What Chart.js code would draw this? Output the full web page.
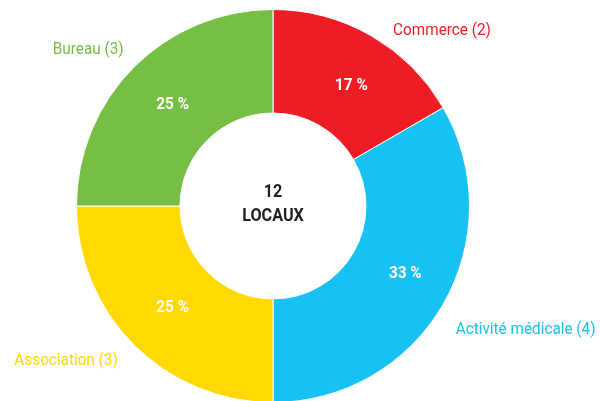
<!DOCTYPE html>
<html>
<head>
<meta charset="utf-8">
<script src="https://cdn.jsdelivr.net/npm/chart.js@4"></script>
<style>
  html, body { margin: 0; padding: 0; background: #fff; overflow: hidden; }
  #wrap { width: 600px; height: 401px; overflow: hidden; }
</style>
</head>
<body>
<div id="wrap"><canvas id="locaux" width="600" height="410"></canvas></div>
<script>
// ---- data ----
const categories = ['Commerce', 'Activité médicale', 'Association', 'Bureau'];
const counts = [2, 4, 3, 3];
const percentLabels = ['17 %', '33 %', '25 %', '25 %'];
const centerLines = ['12', 'LOCAUX'];
const colors = ['#EE1D25', '#17C2F2', '#FFD900', '#77BF44'];

const FONT = 'Roboto, "Noto Sans", sans-serif';
const SQUEEZE = 0.9; // fake a condensed face

// outer label placement, relative to centre, in units of outer radius
// [dx, dy, align]
const outerLabelLayout = [
  [0.86, -0.89, 'center'],
  [0.93, 0.63, 'left'],
  [-0.79, 0.785, 'right'],
  [-0.76, -0.795, 'right']
];
// small nudges for the in-ring percentages (px)
const pctNudge = [[6, 5], [7, -5], [2, -1], [2, 1]];

function condensedText(ctx, text, x, y) {
  ctx.save();
  ctx.translate(x, y);
  ctx.scale(SQUEEZE, 1);
  ctx.fillText(text, 0, 0);
  ctx.restore();
}

const labelsPlugin = {
  id: 'locauxLabels',
  afterDatasetsDraw(chart) {
    const ctx = chart.ctx;
    const arcs = chart.getDatasetMeta(0).data;
    if (!arcs.length) return;
    const cx = arcs[0].x, cy = arcs[0].y, r = arcs[0].outerRadius;

    ctx.save();
    ctx.textBaseline = 'middle';

    // percentages inside the ring
    ctx.fillStyle = '#fff';
    ctx.font = 'bold 17px ' + FONT;
    ctx.textAlign = 'center';
    arcs.forEach((arc, i) => {
      const p = arc.getCenterPoint();
      condensedText(ctx, percentLabels[i], p.x + pctNudge[i][0], p.y + pctNudge[i][1]);
    });

    // category names outside
    ctx.font = '17px ' + FONT;
    arcs.forEach((arc, i) => {
      const [dx, dy, align] = outerLabelLayout[i];
      ctx.fillStyle = colors[i];
      ctx.textAlign = align;
      condensedText(ctx, categories[i] + ' (' + counts[i] + ')', cx + dx * r, cy + dy * r);
    });

    // centre total
    ctx.fillStyle = '#222';
    ctx.font = 'bold 18px ' + FONT;
    ctx.textAlign = 'center';
    condensedText(ctx, centerLines[0], cx, cy - 14);
    condensedText(ctx, centerLines[1], cx, cy + 10);
    ctx.restore();
  }
};

new Chart(document.getElementById('locaux'), {
  type: 'doughnut',
  data: {
    labels: categories,
    datasets: [{
      data: counts,
      backgroundColor: colors,
      borderColor: '#fff',
      borderWidth: 1
    }]
  },
  options: {
    responsive: false,
    animation: false,
    cutout: '47.3%',
    layout: { padding: { left: 76, right: 130, top: 9, bottom: 7 } },
    plugins: {
      legend: { display: false },
      tooltip: { enabled: false }
    }
  },
  plugins: [labelsPlugin]
});
</script>
</body>
</html>
